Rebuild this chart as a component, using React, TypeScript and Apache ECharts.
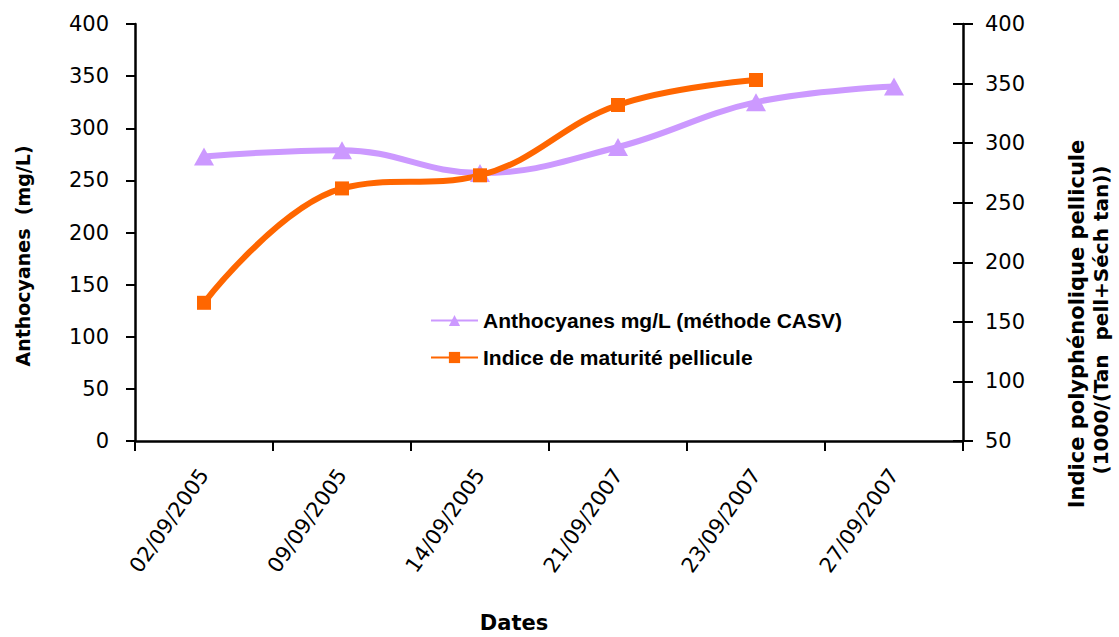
import React, { useEffect, useRef } from "react";
import * as echarts from "echarts";

const categories = ["02/09/2005", "09/09/2005", "14/09/2005", "21/09/2007", "23/09/2007", "27/09/2007"];
const anthocyanes = [273, 279, 257, 282, 325, 340];
const indiceMaturite = [166, 262, 273, 332, 353, null];
const leftTicks = { min: 0, max: 400, interval: 50 };
const rightTicks = { min: 50, max: 400, interval: 50 };

const seriesNames = ["Anthocyanes mg/L (méthode CASV)", "Indice de maturité pellicule"];

export default function App() {
  const ref = useRef<HTMLDivElement>(null);
  useEffect(() => {
    if (!ref.current) return;
    const chart = echarts.init(ref.current, null, { renderer: "svg" });
    const tickFont = { fontFamily: "DejaVu Sans", fontSize: 21, color: "#000" };
    chart.setOption({
      animation: false,
      backgroundColor: "#fff",
      grid: { left: 135, right: 156, top: 24, bottom: 196, containLabel: false },
      legend: {
        orient: "vertical",
        left: 425,
        top: 305,
        itemWidth: 47,
        itemHeight: 14,
        itemGap: 16,
        textStyle: { fontFamily: "Liberation Sans", fontWeight: "bold", fontSize: 21, color: "#000" },
        data: seriesNames,
      },
      xAxis: {
        type: "category",
        data: categories,
        boundaryGap: true,
        axisLine: { lineStyle: { color: "#000", width: 2.5 } },
        axisTick: { show: true, length: 10, lineStyle: { color: "#000", width: 2 } },
        axisLabel: { ...tickFont, rotate: 55, margin: 30, interval: 0 },
        splitLine: { show: false },
      },
      yAxis: [
        {
          type: "value",
          position: "left",
          ...leftTicks,
          axisLine: { show: true, lineStyle: { color: "#000", width: 2.5 } },
          axisTick: { show: true, length: 9, lineStyle: { color: "#000", width: 2 } },
          axisLabel: { ...tickFont, margin: 26 },
          splitLine: { show: false },
        },
        {
          type: "value",
          position: "right",
          ...rightTicks,
          axisLine: { show: true, lineStyle: { color: "#000", width: 2.5 } },
          axisTick: { show: true, length: 10, lineStyle: { color: "#000", width: 2 } },
          axisLabel: { ...tickFont, margin: 22 },
          splitLine: { show: false },
        },
        {
          type: "value",
          position: "right",
          ...rightTicks,
          axisLine: { show: false },
          axisTick: { show: true, inside: true, length: 10, lineStyle: { color: "#000", width: 2 } },
          axisLabel: { show: false },
          splitLine: { show: false },
        },
      ],
      series: [
        {
          name: seriesNames[0],
          type: "line",
          yAxisIndex: 0,
          data: anthocyanes,
          smooth: 0.4,
          symbol: "triangle",
          symbolSize: [20, 18],
          itemStyle: { color: "#CC99FF" },
          lineStyle: { color: "#CC99FF", width: 6 },
        },
        {
          name: seriesNames[1],
          type: "line",
          yAxisIndex: 1,
          data: indiceMaturite,
          smooth: 0.4,
          symbol: "rect",
          symbolSize: 14,
          itemStyle: { color: "#FF6600" },
          lineStyle: { color: "#FF6600", width: 6 },
        },
      ],
      graphic: [
        {
          type: "text",
          x: 23,
          y: 256,
          rotation: Math.PI / 2,
          style: {
            text: "Anthocyanes  (mg/L)",
            fontFamily: "DejaVu Sans",
            fontWeight: "bold",
            fontSize: 19,
            fill: "#000",
            align: "center",
            verticalAlign: "middle",
          },
        },
        {
          type: "text",
          x: 1077,
          y: 324,
          rotation: Math.PI / 2,
          style: {
            text: "Indice polyphénolique pellicule",
            fontFamily: "DejaVu Sans",
            fontWeight: "bold",
            fontSize: 21,
            fill: "#000",
            align: "center",
            verticalAlign: "middle",
          },
        },
        {
          type: "text",
          x: 1101,
          y: 320,
          rotation: Math.PI / 2,
          style: {
            text: "(1000/(Tan  pell+Séch tan))",
            fontFamily: "DejaVu Sans",
            fontWeight: "bold",
            fontSize: 20,
            fill: "#000",
            align: "center",
            verticalAlign: "middle",
          },
        },
        {
          type: "text",
          x: 514,
          y: 623,
          style: {
            text: "Dates",
            fontFamily: "DejaVu Sans",
            fontWeight: "bold",
            fontSize: 21,
            fill: "#000",
            align: "center",
            verticalAlign: "middle",
          },
        },
      ],
    });
    return () => chart.dispose();
  }, []);
  return (
    <div
      ref={ref}
      style={{ position: "fixed", left: 0, top: 0, width: 1119, height: 637, background: "#fff" }}
    />
  );
}
